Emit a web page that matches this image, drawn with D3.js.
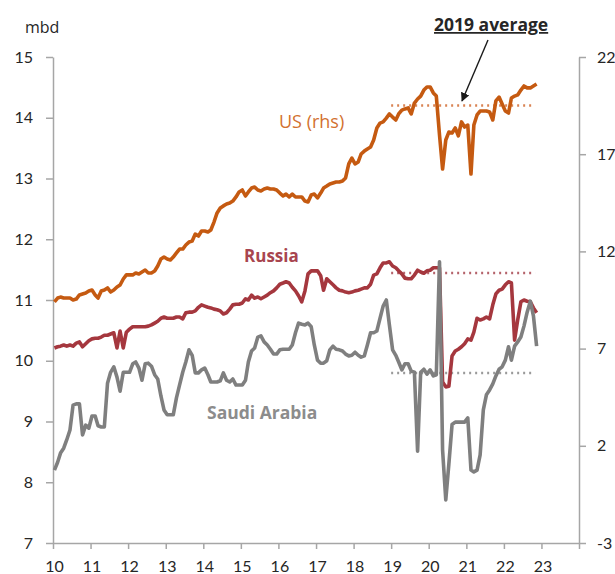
<!DOCTYPE html>
<html>
<head>
<meta charset="utf-8">
<script src="https://cdn.jsdelivr.net/npm/d3@7"></script>
<style>
  body { margin: 0; background: #fff; }
  svg { display: block; font-family: "Open Sans", Lato, sans-serif; }
  .axis path, .axis line { stroke: #a6a6a6; stroke-width: 1.5; }
  .axis text { font-size: 16px; fill: #262626; font-family: Lato, sans-serif; }
</style>
</head>
<body>
<svg id="chart" width="615" height="574"></svg>
<script>
/*****************************************
*   Data (monthly, Jan 2010 - Nov 2022)
*****************************************/

// US, mbd, right hand scale
const us = [
  9.40, 9.60, 9.65, 9.60, 9.60, 9.60, 9.50, 9.55, 9.76, 9.81, 9.86, 9.96,
  10.01, 9.76, 9.60, 9.96, 10.01, 10.12, 9.91, 10.01, 10.17, 10.27, 10.58, 10.79,
  10.79, 10.79, 10.89, 10.84, 10.94, 11.04, 10.89, 10.89, 10.99, 11.25, 11.61, 11.71,
  11.61, 11.56, 11.71, 11.92, 12.12, 12.12, 12.33, 12.48, 12.53, 12.89, 12.79, 13.05,
  13.05, 13.00, 13.10, 13.51, 13.98, 14.23, 14.34, 14.44, 14.49, 14.59, 14.80, 15.06,
  15.16, 14.85, 15.06, 15.26, 15.31, 15.16, 15.11, 15.21, 15.26, 15.21, 15.21, 15.16,
  15.00, 14.85, 14.95, 14.80, 14.95, 14.80, 14.80, 14.80, 14.59, 14.54, 14.90, 14.95,
  14.75, 15.00, 15.26, 15.36, 15.47, 15.52, 15.57, 15.57, 15.62, 15.78, 16.50, 16.80,
  16.50, 16.60, 17.01, 17.16, 17.27, 17.37, 17.73, 18.35, 18.60, 18.66, 18.86, 19.07,
  18.91, 18.76, 19.07, 19.27, 19.33, 19.38, 19.07, 19.63, 19.84, 19.99, 20.30, 20.46,
  20.46, 20.15, 19.99, 17.99, 16.24, 17.73, 18.14, 18.09, 18.35, 17.94, 18.66, 18.40,
  18.50, 15.98, 18.50, 19.02, 19.22, 19.22, 19.22, 19.17, 18.76, 19.74, 19.94, 19.58,
  19.22, 19.12, 19.89, 19.99, 20.05, 20.30, 20.51, 20.41, 20.41, 20.51, 20.61
];

// Russia, mbd, left hand scale
const russia = [
  10.21, 10.23, 10.24, 10.26, 10.24, 10.26, 10.24, 10.29, 10.31, 10.23, 10.28, 10.33,
  10.36, 10.37, 10.37, 10.39, 10.42, 10.42, 10.44, 10.46, 10.21, 10.49, 10.21, 10.47,
  10.52, 10.56, 10.56, 10.56, 10.56, 10.56, 10.57, 10.59, 10.62, 10.65, 10.70, 10.72,
  10.70, 10.70, 10.70, 10.72, 10.72, 10.69, 10.79, 10.80, 10.80, 10.82, 10.88, 10.92,
  10.90, 10.88, 10.87, 10.85, 10.84, 10.82, 10.77, 10.79, 10.85, 10.92, 10.93, 10.93,
  10.95, 11.02, 11.00, 11.08, 11.03, 11.05, 11.02, 11.05, 11.08, 11.12, 11.15, 11.20,
  11.26, 11.28, 11.30, 11.28, 11.21, 11.15, 11.07, 10.97, 11.15, 11.43, 11.48, 11.48,
  11.48, 11.40, 11.16, 11.35, 11.30, 11.25, 11.20, 11.16, 11.15, 11.13, 11.12, 11.13,
  11.15, 11.16, 11.18, 11.20, 11.20, 11.26, 11.41, 11.43, 11.53, 11.61, 11.61, 11.63,
  11.56, 11.53, 11.48, 11.43, 11.36, 11.35, 11.35, 11.41, 11.49, 11.46, 11.44, 11.48,
  11.49, 11.53, 11.53, 11.53, 9.65, 9.57, 9.58, 10.08, 10.16, 10.19, 10.23, 10.28,
  10.36, 10.34, 10.47, 10.70, 10.67, 10.69, 10.72, 10.69, 10.92, 11.10, 11.16, 11.18,
  11.25, 11.30, 11.28, 10.34, 10.67, 10.97, 11.00, 10.98, 10.97, 10.87, 10.79
];

// Saudi Arabia, mbd, left hand scale
const saudi = [
  8.20, 8.33, 8.48, 8.56, 8.70, 8.86, 9.27, 9.29, 9.29, 8.78, 8.94, 8.89,
  9.09, 9.09, 8.93, 8.91, 8.91, 9.63, 9.81, 9.90, 9.73, 9.50, 9.81, 9.81,
  9.81, 9.95, 9.98, 9.88, 9.68, 9.95, 9.96, 9.91, 9.77, 9.70, 9.42, 9.19,
  9.11, 9.11, 9.11, 9.39, 9.60, 9.81, 9.98, 10.18, 10.09, 9.80, 9.80, 9.85,
  9.88, 9.77, 9.65, 9.65, 9.65, 9.67, 9.80, 9.68, 9.65, 9.70, 9.60, 9.60,
  9.60, 9.68, 9.98, 10.16, 10.21, 10.39, 10.41, 10.31, 10.26, 10.19, 10.11, 10.11,
  10.18, 10.19, 10.19, 10.19, 10.26, 10.46, 10.62, 10.60, 10.59, 10.62, 10.56, 10.26,
  10.01, 9.96, 9.96, 10.00, 10.18, 10.24, 10.19, 10.18, 10.16, 10.11, 10.08, 10.09,
  10.14, 10.09, 10.06, 10.08, 10.26, 10.46, 10.46, 10.49, 10.70, 10.90, 11.00, 10.59,
  10.18, 10.09, 9.98, 9.85, 9.95, 9.95, 9.83, 9.81, 8.51, 9.81, 9.86, 9.78,
  9.85, 9.75, 9.77, 11.63, 8.53, 7.71, 8.30, 8.95, 8.99, 8.99, 8.99, 8.99,
  9.06, 8.20, 8.17, 8.20, 8.45, 9.19, 9.44, 9.52, 9.62, 9.75, 9.86, 9.90,
  10.01, 10.23, 10.01, 10.24, 10.31, 10.39, 10.57, 10.80, 10.98, 10.74, 10.24
];

const leftTicks = [7, 8, 9, 10, 11, 12, 13, 14, 15];
const rightTicks = [-3, 2, 7, 12, 17, 22];
const yearTicks = d3.range(2010, 2025);

// monthly points are plotted mid-month
const months = d3.range(us.length).map(i => new Date(2010, i, 15));

/*****************************************
*   Layout
*****************************************/

const LEFT = 53;
const RIGHT = 579;
const TOP = 57;
const BOTTOM = 543;

const US_COLOR = '#c55a11';
const RUSSIA_COLOR = '#a5373e';
const SAUDI_COLOR = '#7f7f7f';

const svg = d3.select('#chart');

const xScale = d3.scaleTime()
    .domain([new Date(2010, 0, 1), new Date(2024, 0, 1)])
    .range([LEFT, RIGHT]);

const yLeft = d3.scaleLinear()
    .domain([7, 15])
    .range([BOTTOM, TOP]);

const yRight = d3.scaleLinear()
    .domain([-3, 22])
    .range([BOTTOM, TOP]);

/*****************************************
*   Axes
*****************************************/

svg.append('g')
    .attr('class', 'axis')
    .attr('transform', 'translate(' + LEFT + ',0)')
    .call(d3.axisLeft(yLeft)
        .tickValues(leftTicks)
        .tickSize(7)
        .tickSizeOuter(0)
        .tickPadding(13)
        .tickFormat(d3.format('d')));

svg.append('g')
    .attr('class', 'axis')
    .attr('transform', 'translate(' + RIGHT + ',0)')
    .call(d3.axisRight(yRight)
        .tickValues(rightTicks)
        .tickSize(7)
        .tickSizeOuter(0)
        .tickPadding(11)
        .tickFormat(d => d < 0 ? '-' + Math.abs(d) : d));

svg.append('g')
    .attr('class', 'axis')
    .attr('transform', 'translate(0,' + BOTTOM + ')')
    .call(d3.axisBottom(xScale)
        .tickValues(yearTicks.map(y => new Date(y, 0, 1)))
        .tickSize(6)
        .tickSizeOuter(0)
        .tickPadding(12)
        .tickFormat(d => d.getFullYear() < 2024 ? d3.timeFormat('%y')(d) : ''))
    .selectAll('text')
        .attr('dx', '1');

svg.append('text')
    .attr('x', 25)
    .attr('y', 33)
    .attr('font-size', 16)
    .attr('fill', '#262626')
    .text('mbd');

/*****************************************
*   2019 averages (dotted)
*****************************************/

function avg2019(values) {
    return d3.mean(values.filter((v, i) => months[i].getFullYear() == 2019));
}

const avgStart = new Date(2019, 0, 1);
const avgEnd = new Date(2022, 10, 1);

const averages = [
    {value: avg2019(saudi), scale: yLeft, color: '#9a9a9a'},
    {value: avg2019(russia), scale: yLeft, color: '#b5636b'},
    {value: avg2019(us), scale: yRight, color: '#d98454'}
];

svg.selectAll('line.avg')
    .data(averages)
    .enter()
    .append('line')
      .attr('class', 'avg')
      .attr('x1', xScale(avgStart))
      .attr('x2', xScale(avgEnd))
      .attr('y1', d => d.scale(d.value))
      .attr('y2', d => d.scale(d.value))
      .attr('stroke', d => d.color)
      .attr('stroke-width', 2.5)
      .attr('stroke-dasharray', '2,4');

/*****************************************
*   Series lines
*****************************************/

function draw_series(values, scale, color) {
    const line = d3.line()
        .x((d, i) => xScale(months[i]))
        .y(d => scale(d));
    svg.append('path')
        .datum(values)
        .attr('d', line)
        .attr('fill', 'none')
        .attr('stroke', color)
        .attr('stroke-width', 3.6)
        .attr('stroke-linejoin', 'round');
}

draw_series(russia, yLeft, RUSSIA_COLOR);
draw_series(saudi, yLeft, SAUDI_COLOR);
draw_series(us, yRight, US_COLOR);

/*****************************************
*   Labels and annotation
*****************************************/

svg.append('text')
    .attr('x', 279)
    .attr('y', 128)
    .attr('font-size', 18)
    .attr('fill', '#d2712f')
    .text('US (rhs)');

svg.append('text')
    .attr('x', 244)
    .attr('y', 262)
    .attr('font-size', 17)
    .attr('font-weight', 'bold')
    .attr('fill', '#a8454f')
    .text('Russia');

svg.append('text')
    .attr('x', 207)
    .attr('y', 419)
    .attr('font-size', 17.5)
    .attr('font-weight', 'bold')
    .attr('fill', '#8c8c8c')
    .text('Saudi Arabia');

svg.append('text')
    .attr('x', 434)
    .attr('y', 31)
    .attr('font-size', 17.5)
    .attr('font-weight', 'bold')
    .attr('fill', '#262626')
    .attr('text-decoration', 'underline')
    .text('2019 average');

svg.append('defs')
    .append('marker')
      .attr('id', 'arrow')
      .attr('viewBox', '0 0 10 10')
      .attr('refX', 9)
      .attr('refY', 5)
      .attr('markerWidth', 9)
      .attr('markerHeight', 9)
      .attr('markerUnits', 'userSpaceOnUse')
      .attr('orient', 'auto')
    .append('path')
      .attr('d', 'M0,0 L10,5 L0,10 z')
      .attr('fill', '#1a1a1a');

svg.append('line')
    .attr('x1', 488)
    .attr('y1', 40)
    .attr('x2', 462)
    .attr('y2', 101)
    .attr('stroke', '#1a1a1a')
    .attr('stroke-width', 1.4)
    .attr('marker-end', 'url(#arrow)');
</script>
</body>
</html>
